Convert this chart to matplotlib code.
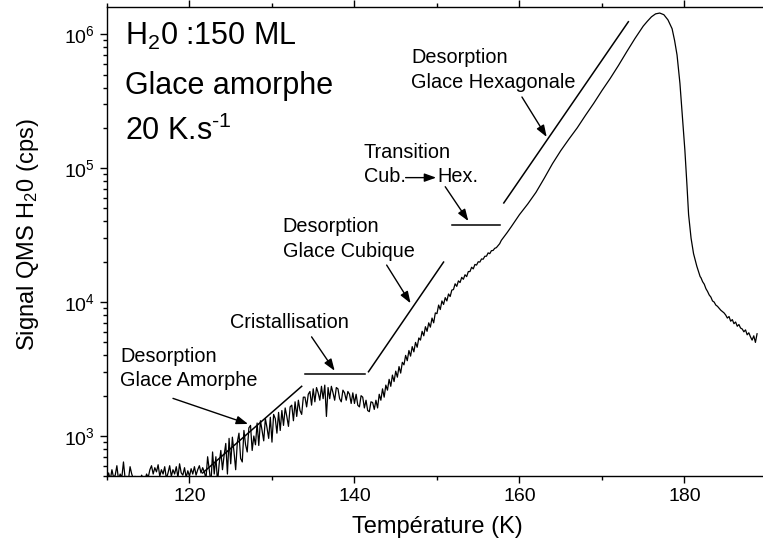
import numpy as np
import matplotlib
matplotlib.use("Agg")
import matplotlib.pyplot as plt
from matplotlib.ticker import LogLocator, MultipleLocator, NullFormatter

plt.rcParams['font.family'] = ['Liberation Sans', 'DejaVu Sans']
plt.rcParams['mathtext.fontset'] = 'custom'
plt.rcParams['mathtext.rm'] = 'Liberation Sans'
plt.rcParams['mathtext.it'] = 'Liberation Sans:italic'
plt.rcParams['mathtext.bf'] = 'Liberation Sans:bold'
plt.rcParams['mathtext.default'] = 'regular'

# --- TPD signal ---
# baseline 110 -> 121.8 K (0.2 K steps)
temp_base = np.round(np.arange(110.0, 122.0, 0.2), 1)
sig_base = [480, 530, 470, 560, 490, 510, 600, 470, 520, 490,
            640, 480, 500, 470, 590, 520, 480, 500, 470, 490,
            460, 510, 480, 470, 520, 490, 560, 600, 520, 580,
            540, 610, 500, 560, 520, 590, 480, 530, 600, 500,
            560, 520, 590, 490, 620, 530, 510, 580, 490, 550,
            500, 570, 520, 590, 510, 560, 600, 530, 580, 540]

# amorphous desorption, crystallisation, cubic ice 122 -> 157.8 K
temp_rise = np.round(np.arange(122.0, 158.0, 0.2), 1)
sig_rise = [480, 700, 560, 440, 760,
            520, 700, 450, 620, 780,
            560, 720, 880, 520, 960,
            620, 980, 760, 560, 900,
            1050, 680, 640, 1100, 860,
            760, 1150, 1200, 780, 1000,
            860, 1250, 850, 1300, 1100,
            920, 1350, 1150, 960, 1380,
            900, 1450, 1350, 1050, 1500,
            1100, 1550, 1200, 1620, 1400,
            1180, 1650, 1700, 1300, 1800,
            1400, 1850, 1550, 1450, 1950,
            1950, 1650, 2050, 2150, 1700,
            2250, 1800, 2300, 2100, 1850,
            2350, 1900, 2400, 1400, 2300,
            1900, 2350, 2100, 1850, 2300,
            2250, 1900, 1800, 2200, 2100,
            1850, 2150, 2050, 1750, 2100,
            1750, 2050, 1700, 1650, 2000,
            1950, 1620, 1850, 1550, 1520,
            1800, 1780, 1580, 1850, 1620,
            2050, 1850, 2250, 1950, 2400,
            2200, 2650, 2350, 2850, 2550,
            3050, 2750, 3300, 2950, 3550,
            3400, 4000, 3650, 4350, 3950,
            4650, 4250, 5000, 4600, 5400,
            5200, 6050, 5600, 6550, 6050,
            7000, 6500, 7600, 7000, 8300,
            8200, 9500, 8800, 10200, 9600,
            10800, 10200, 11500, 11000, 12300,
            12400, 13700, 13100, 14400, 14000,
            15300, 14800, 16000, 15500, 16900,
            16900, 18200, 17700, 19100, 18900,
            20000, 19900, 21000, 20900, 22000,
            22000, 23300, 23000, 24200, 24300,
            25200, 25500, 26400, 27300, 28900]

# hexagonal ice desorption and peak
temp_peak = [158.0, 158.5, 159.0, 160.0, 161.0, 162.0, 163.0, 164.0, 165.0,
             166.0, 167.0, 168.0, 169.0, 170.0, 171.0, 172.0, 173.0, 174.0,
             175.0, 175.5, 176.0, 176.5, 177.0, 177.5, 178.0, 178.5, 178.8,
             179.1, 179.45, 179.75, 180.05, 180.3, 180.5, 180.8, 181.1,
             181.5, 181.9]
sig_peak = [30000, 33000, 36500, 45000, 54000, 66000, 84000, 108000, 135000,
            165000, 200000, 248000, 305000, 380000, 468000, 585000, 740000,
            930000, 1150000, 1250000, 1350000, 1420000, 1440000, 1400000,
            1280000, 1100000, 900000, 700000, 430000, 240000, 136000, 75000,
            45000, 30000, 23000, 18500, 15500]

# tail 182 -> 188.8 K
temp_tail = np.round(np.arange(182.0, 189.0, 0.2), 1)
sig_tail = [15200, 14200, 13600, 12600, 12000,
            11300, 10900, 10200, 10000, 9500,
            9300, 9000, 8700, 8500, 8300,
            8000, 7600, 7800, 7200, 7400,
            6900, 7100, 6600, 6800, 6400,
            6300, 6000, 6200, 5700, 5900,
            5500, 5200, 5600, 5000, 5800]

temps = np.concatenate([temp_base, temp_rise, temp_peak, temp_tail])
signal = np.concatenate([sig_base, sig_rise, sig_peak, sig_tail])

# guide segments drawn next to the curve (start, end) in data units
guide_lines = [((121.6, 530), (133.6, 2350)),
               ((134.0, 2900), (141.3, 2900)),
               ((141.7, 3020), (150.8, 19900)),
               ((151.8, 37600), (157.6, 37600)),
               ((158.1, 55000), (173.2, 1240000))]
# arrows (tail, tip)
arrows = [((118.0, 1910), (127.1, 1230)),
          ((134.8, 5500), (137.6, 3070)),
          ((143.9, 18900), (146.8, 9800)),
          ((151.0, 72700), (153.8, 40300)),
          ((160.3, 340000), (163.3, 171000)),
          ((146.2, 85000), (149.9, 85000))]
# annotation text lines (x, baseline y, text)
labels = [(111.6, 3590, 'Desorption'), (111.6, 2360, 'Glace Amorphe'),
          (124.9, 6360, 'Cristallisation'),
          (131.3, 33300, 'Desorption'), (131.3, 21700, 'Glace Cubique'),
          (141.15, 120000, 'Transition'), (141.15, 78500, 'Cub.'),
          (150.1, 78500, 'Hex.'),
          (146.9, 607000, 'Desorption'), (146.9, 400000, 'Glace Hexagonale')]

fig = plt.figure(figsize=(7.63, 5.52), dpi=100)
ax = fig.add_axes([0.1402, 0.1371, 1.0052 - 0.1402, 0.8497])

ax.plot(temps, signal, color='k', lw=0.9)

for (x0, y0), (x1, y1) in guide_lines:
    ax.plot([x0, x1], [y0, y1], color='k', lw=1.1)
for tail, tip in arrows:
    ax.annotate('', xy=tip, xytext=tail,
                arrowprops=dict(arrowstyle='-|>,head_length=0.5,head_width=0.18',
                                color='k', lw=1, mutation_scale=14,
                                shrinkA=0, shrinkB=0))
for x, y, s in labels:
    ax.text(x, y, s, fontsize=14.3, va='baseline', ha='left')

ax.text(0.027, 0.919, 'H$_2$0 :150 ML', transform=ax.transAxes, fontsize=22, va='baseline')
ax.text(0.027, 0.816, 'Glace amorphe', transform=ax.transAxes, fontsize=22, va='baseline')
ax.text(0.027, 0.718, '20 K.s$^{\u20101}$', transform=ax.transAxes, fontsize=22, va='baseline')

ax.set_yscale('log')
ax.set_xlim(110, 190)
ax.set_ylim(500, 1.59e6)
ax.xaxis.set_major_locator(MultipleLocator(20))
ax.xaxis.set_minor_locator(MultipleLocator(10))
ax.yaxis.set_major_locator(LogLocator(base=10, numticks=10))
ax.yaxis.set_minor_locator(LogLocator(base=10, subs=np.arange(2, 10), numticks=20))
ax.yaxis.set_minor_formatter(NullFormatter())
ax.tick_params(which='both', direction='out', top=True, right=False, width=1)
ax.tick_params(which='major', length=5, labelsize=14)
ax.tick_params(which='minor', length=3)
for sp in ax.spines.values():
    sp.set_linewidth(1)

ax.set_xlabel('Température (K)', fontsize=17, labelpad=8)
ax.set_ylabel('Signal QMS H$_2$0 (cps)', fontsize=17, labelpad=15)
ax.yaxis.set_label_coords(-0.1, 0.515)

fig.savefig('out.png', dpi=100)
